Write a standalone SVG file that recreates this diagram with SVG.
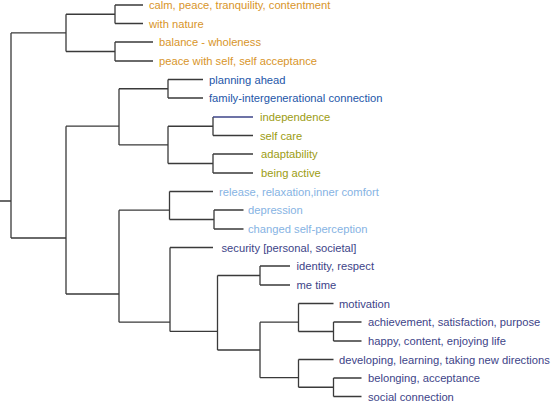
<svg xmlns="http://www.w3.org/2000/svg" width="552" height="403" viewBox="0 0 552 403">
<style>
.c{fill:none;stroke:#3a3a3a;stroke-width:1.3}
.cb{fill:none;stroke:#3d4488;stroke-width:1.3}
text{font-family:"Liberation Sans",Arial,sans-serif;font-size:11.2px}
.o{fill:#d8952a}
.b{fill:#2356a8}
.g{fill:#9c9c12}
.l{fill:#86b3e3}
.n{fill:#3d4488}
</style>
<rect width="552" height="403" fill="#ffffff"/>
<g id="connectors">
<path class="c" d="M0 201H11M11 32.9V238M11 32.9H66M11 238H66"/>
<path class="c" d="M66 14.25V51.5M66 14.25H115M66 51.5H115"/>
<path class="c" d="M115 5V23.5M115 5H143M115 23.5H143"/>
<path class="c" d="M115 42V61M115 42H153M115 61H153"/>
<path class="c" d="M66 126.2V294M66 126.2H119M66 294H119"/>
<path class="c" d="M119 88.75V144.9M119 88.75H168M119 144.9H168"/>
<path class="c" d="M168 79.5V98M168 79.5H203M168 98H203"/>
<path class="c" d="M168 126.25V163.5M168 126.25H213M168 163.5H213"/>
<path class="c" d="M213 117V135.5M213 135.5H253"/>
<path class="cb" d="M213 117H253"/>
<path class="c" d="M213 154V173M213 154H253M213 173H253"/>
<path class="c" d="M119 210.2V322.2M119 210.2H169.5M119 322.2H170"/>
<path class="c" d="M169.5 191.5V219.5M169.5 191.5H213M169.5 219.5H214"/>
<path class="c" d="M214 210V229M214 210H243.5M214 229H243.5"/>
<path class="c" d="M170 247.5V331.4M170 247.5H213M170 331.4H217.5"/>
<path class="c" d="M217.5 275.5V350M217.5 275.5H260M217.5 350H260"/>
<path class="c" d="M260 266V285M260 266H290M260 285H290"/>
<path class="c" d="M260 322.2V377.7M260 322.2H298.5M260 377.7H298.5"/>
<path class="c" d="M298.5 303.5V331.5M298.5 303.5H333.5M298.5 331.5H333.5"/>
<path class="c" d="M333.5 322V341M333.5 322H361.5M333.5 341H361.5"/>
<path class="c" d="M298.5 359.5V387.25M298.5 359.5H333.5M298.5 387.25H333.5"/>
<path class="c" d="M333.5 378V396.5M333.5 378H361.5M333.5 396.5H361.5"/>
</g>
<g id="n-calm"><text class="o" x="149" y="9">calm, peace, tranquility, contentment</text></g>
<g id="n-nature"><text class="o" x="149" y="27.5">with nature</text></g>
<g id="n-balance"><text class="o" x="159" y="46">balance - wholeness</text></g>
<g id="n-peace"><text class="o" x="159" y="65">peace with self, self acceptance</text></g>
<g id="n-planning"><text class="b" x="209" y="83.5">planning ahead</text></g>
<g id="n-family"><text class="b" x="209" y="102">family-intergenerational connection</text></g>
<g id="n-independence"><text class="g" x="260" y="121">independence</text></g>
<g id="n-selfcare"><text class="g" x="260" y="139.5">self care</text></g>
<g id="n-adaptability"><text class="g" x="261" y="158">adaptability</text></g>
<g id="n-active"><text class="g" x="261" y="177">being active</text></g>
<g id="n-release"><text class="l" x="219" y="195.5">release, relaxation,inner comfort</text></g>
<g id="n-depression"><text class="l" x="248" y="214">depression</text></g>
<g id="n-changed"><text class="l" x="248" y="233">changed self-perception</text></g>
<g id="n-security"><text class="n" x="221.5" y="251.5">security [personal, societal]</text></g>
<g id="n-identity"><text class="n" x="296.5" y="270">identity, respect</text></g>
<g id="n-metime"><text class="n" x="296.5" y="289">me time</text></g>
<g id="n-motivation"><text class="n" x="339" y="307.5">motivation</text></g>
<g id="n-achievement"><text class="n" x="368" y="326">achievement, satisfaction, purpose</text></g>
<g id="n-happy"><text class="n" x="368" y="345">happy, content, enjoying life</text></g>
<g id="n-developing"><text class="n" x="339" y="363.5">developing, learning, taking new directions</text></g>
<g id="n-belonging"><text class="n" x="368" y="382">belonging, acceptance</text></g>
<g id="n-social"><text class="n" x="368" y="400.5">social connection</text></g>
</svg>
